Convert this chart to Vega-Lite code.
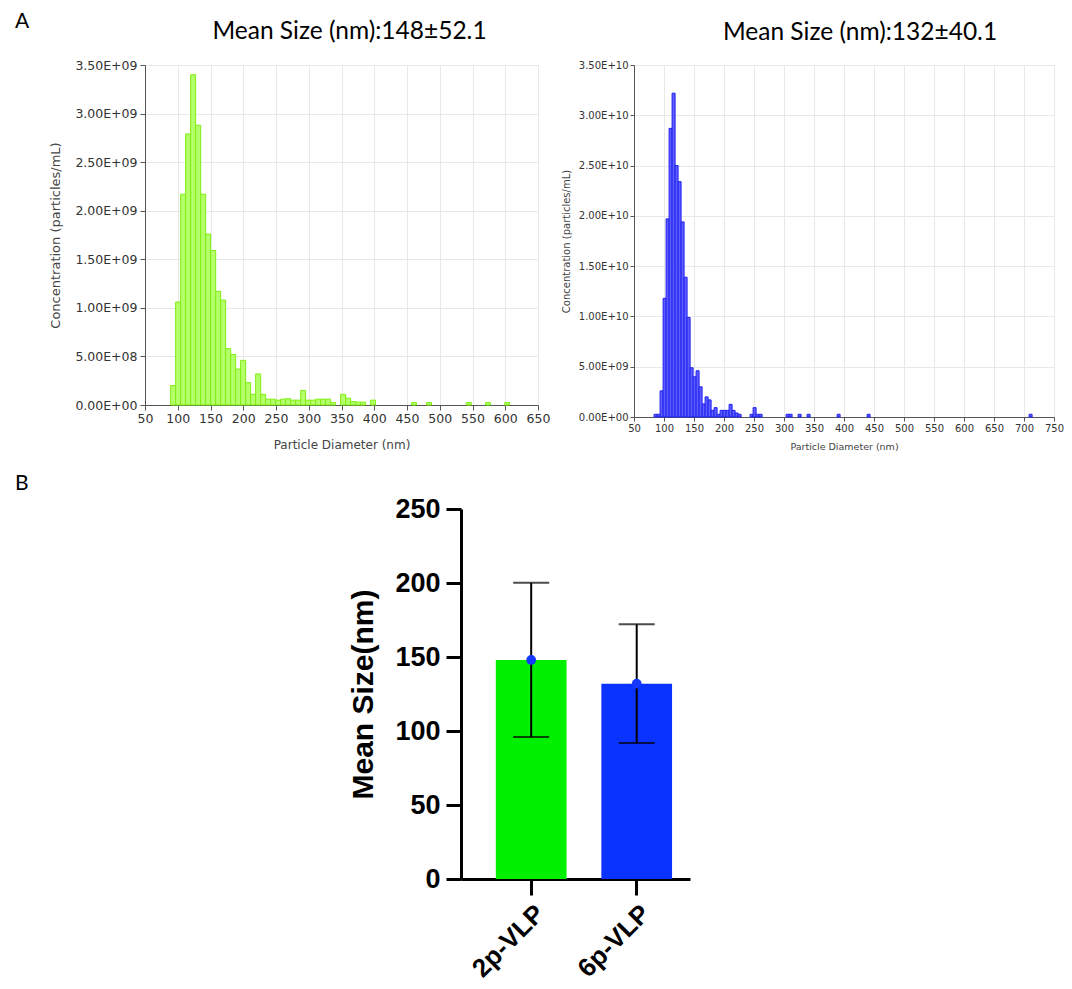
{
  "$schema": "https://vega.github.io/schema/vega-lite/v6.json",
  "background": "white",
  "padding": {"left": 15, "top": 10, "right": 5, "bottom": 2},
  "title": {"text": "A", "anchor": "start", "frame": "group", "dx": -130, "font": "Lato", "fontSize": 21, "fontWeight": "normal", "color": "black", "offset": -13},
  "bounds": "flush",
  "spacing": 444,
  "vconcat": [
    {
      "bounds": "flush",
      "spacing": 96,
      "hconcat": [
        {
          "width": 393,
          "height": 340,
          "title": {"text": "Mean Size (nm):148±52.1", "font": "Lato", "fontSize": 24.5, "fontWeight": "normal", "color": "black", "anchor": "middle", "dx": 8, "offset": 14.5},
          "data": {"values": [
            {"d0": 89.2, "d1": 96.8, "c": 2.0e8},
            {"d0": 96.8, "d1": 104.4, "c": 1.06e9},
            {"d0": 104.4, "d1": 112.1, "c": 2.17e9},
            {"d0": 112.1, "d1": 119.7, "c": 2.79e9},
            {"d0": 119.7, "d1": 127.3, "c": 3.40e9},
            {"d0": 127.3, "d1": 135.0, "c": 2.88e9},
            {"d0": 135.0, "d1": 142.6, "c": 2.17e9},
            {"d0": 142.6, "d1": 150.2, "c": 1.76e9},
            {"d0": 150.2, "d1": 157.9, "c": 1.59e9},
            {"d0": 157.9, "d1": 165.5, "c": 1.17e9},
            {"d0": 165.5, "d1": 173.1, "c": 1.08e9},
            {"d0": 173.1, "d1": 180.8, "c": 5.8e8},
            {"d0": 180.8, "d1": 188.4, "c": 5.2e8},
            {"d0": 188.4, "d1": 196.0, "c": 3.7e8},
            {"d0": 196.0, "d1": 203.7, "c": 4.6e8},
            {"d0": 203.7, "d1": 211.3, "c": 2.3e8},
            {"d0": 211.3, "d1": 218.9, "c": 1.1e8},
            {"d0": 218.9, "d1": 226.6, "c": 3.2e8},
            {"d0": 226.6, "d1": 234.2, "c": 1.1e8},
            {"d0": 234.2, "d1": 241.8, "c": 6.0e7},
            {"d0": 241.8, "d1": 249.4, "c": 6.0e7},
            {"d0": 249.4, "d1": 257.1, "c": 5.0e7},
            {"d0": 257.1, "d1": 264.7, "c": 6.0e7},
            {"d0": 264.7, "d1": 272.3, "c": 6.5e7},
            {"d0": 272.3, "d1": 280.0, "c": 5.0e7},
            {"d0": 280.0, "d1": 287.6, "c": 5.0e7},
            {"d0": 287.6, "d1": 295.2, "c": 1.5e8},
            {"d0": 295.2, "d1": 302.9, "c": 5.0e7},
            {"d0": 302.9, "d1": 310.5, "c": 5.0e7},
            {"d0": 310.5, "d1": 318.1, "c": 6.0e7},
            {"d0": 318.1, "d1": 325.8, "c": 6.0e7},
            {"d0": 325.8, "d1": 333.4, "c": 6.0e7},
            {"d0": 333.4, "d1": 341.0, "c": 2.5e7},
            {"d0": 348.6, "d1": 356.3, "c": 1.1e8},
            {"d0": 356.3, "d1": 363.9, "c": 7.0e7},
            {"d0": 363.9, "d1": 371.5, "c": 3.5e7},
            {"d0": 371.5, "d1": 379.2, "c": 3.0e7},
            {"d0": 379.2, "d1": 386.8, "c": 3.0e7},
            {"d0": 394.4, "d1": 402.0, "c": 5.0e7},
            {"d0": 456.9, "d1": 464.5, "c": 2.5e7},
            {"d0": 479.8, "d1": 487.4, "c": 2.5e7},
            {"d0": 540.5, "d1": 548.1, "c": 2.5e7},
            {"d0": 569.8, "d1": 577.4, "c": 2.5e7},
            {"d0": 599.2, "d1": 606.8, "c": 2.5e7}
          ]},
          "mark": {"type": "rect", "fill": "#b4ff6a", "stroke": "#7fef10", "strokeWidth": 1},
          "encoding": {
            "x": {"field": "d0", "type": "quantitative",
              "scale": {"domain": [50, 650], "nice": false, "zero": false},
              "axis": {"values": [50, 100, 150, 200, 250, 300, 350, 400, 450, 500, 550, 600, 650], "format": "d", "grid": true, "gridColor": "#e8e8e8", "domainColor": "#555555", "tickColor": "#555555", "tickSize": 5, "labelFont": "DejaVu Sans", "labelFontSize": 12.5, "labelColor": "#333333", "labelPadding": 2, "labelFlush": false, "labelOverlap": false, "title": "Particle Diameter (nm)", "titleFont": "DejaVu Sans", "titleFontSize": 12, "titleFontWeight": "normal", "titleColor": "#444444", "titlePadding": 15}},
            "x2": {"field": "d1"},
            "y": {"field": "c", "type": "quantitative",
              "scale": {"domain": [0, 3500000000], "nice": false},
              "axis": {"values": [0, 500000000, 1000000000, 1500000000, 2000000000, 2500000000, 3000000000, 3500000000], "labelExpr": "upper(replace(format(datum.value, '.2e'), 'e+', 'e+0'))", "grid": true, "gridColor": "#e8e8e8", "domainColor": "#555555", "tickColor": "#555555", "tickSize": 5, "labelFont": "DejaVu Sans", "labelFontSize": 12.5, "labelColor": "#333333", "labelPadding": 3, "title": "Concentration (particles/mL)", "titleFont": "DejaVu Sans", "titleFontSize": 13, "titleFontWeight": "normal", "titleColor": "#444444", "titlePadding": 12}},
            "y2": {"datum": 0}
          }
        },
        {
          "width": 420,
          "height": 352,
          "title": {"text": "Mean Size (nm):132±40.1", "font": "Lato", "fontSize": 24.5, "fontWeight": "normal", "color": "black", "anchor": "middle", "dx": 16, "offset": 14.5},
          "data": {"values": [
            {"d0": 83.5, "d1": 88.5, "c": 2.7e8},
            {"d0": 88.5, "d1": 93.5, "c": 2.7e8},
            {"d0": 93.5, "d1": 98.5, "c": 2.6e9},
            {"d0": 98.5, "d1": 103.5, "c": 1.18e10},
            {"d0": 103.5, "d1": 108.5, "c": 1.97e10},
            {"d0": 108.5, "d1": 113.5, "c": 2.87e10},
            {"d0": 113.5, "d1": 118.5, "c": 3.22e10},
            {"d0": 118.5, "d1": 123.5, "c": 2.50e10},
            {"d0": 123.5, "d1": 128.5, "c": 2.34e10},
            {"d0": 128.5, "d1": 133.5, "c": 1.94e10},
            {"d0": 133.5, "d1": 138.5, "c": 1.39e10},
            {"d0": 138.5, "d1": 143.5, "c": 9.9e9},
            {"d0": 143.5, "d1": 148.5, "c": 4.9e9},
            {"d0": 148.5, "d1": 153.5, "c": 4.0e9},
            {"d0": 153.5, "d1": 158.5, "c": 4.6e9},
            {"d0": 158.5, "d1": 163.5, "c": 3.0e9},
            {"d0": 163.5, "d1": 168.5, "c": 1.3e9},
            {"d0": 168.5, "d1": 173.5, "c": 2.0e9},
            {"d0": 173.5, "d1": 178.5, "c": 1.7e9},
            {"d0": 178.5, "d1": 183.5, "c": 6.6e8},
            {"d0": 183.5, "d1": 188.5, "c": 9.3e8},
            {"d0": 188.5, "d1": 193.5, "c": 2.7e8},
            {"d0": 193.5, "d1": 198.5, "c": 6.6e8},
            {"d0": 198.5, "d1": 203.5, "c": 6.6e8},
            {"d0": 203.5, "d1": 208.5, "c": 6.6e8},
            {"d0": 208.5, "d1": 213.5, "c": 1.26e9},
            {"d0": 213.5, "d1": 218.5, "c": 6.6e8},
            {"d0": 218.5, "d1": 223.5, "c": 4.0e8},
            {"d0": 223.5, "d1": 228.5, "c": 2.7e8},
            {"d0": 243.5, "d1": 248.5, "c": 2.7e8},
            {"d0": 248.5, "d1": 253.5, "c": 9.3e8},
            {"d0": 253.5, "d1": 258.5, "c": 2.7e8},
            {"d0": 258.5, "d1": 263.5, "c": 2.7e8},
            {"d0": 303.5, "d1": 308.5, "c": 2.7e8},
            {"d0": 308.5, "d1": 313.5, "c": 2.7e8},
            {"d0": 323.5, "d1": 328.5, "c": 2.7e8},
            {"d0": 338.5, "d1": 343.5, "c": 2.7e8},
            {"d0": 388.5, "d1": 393.5, "c": 2.7e8},
            {"d0": 438.5, "d1": 443.5, "c": 2.7e8},
            {"d0": 708.5, "d1": 713.5, "c": 2.7e8}
          ]},
          "mark": {"type": "rect", "fill": "#5c5cff", "stroke": "#2222ee", "strokeWidth": 1},
          "encoding": {
            "x": {"field": "d0", "type": "quantitative",
              "scale": {"domain": [50, 750], "nice": false, "zero": false},
              "axis": {"values": [50, 100, 150, 200, 250, 300, 350, 400, 450, 500, 550, 600, 650, 700, 750], "format": "d", "grid": true, "gridColor": "#e8e8e8", "domainColor": "#555555", "tickColor": "#555555", "tickSize": 4, "labelFont": "DejaVu Sans", "labelFontSize": 10, "labelColor": "#333333", "labelPadding": 2, "labelFlush": false, "labelOverlap": false, "title": "Particle Diameter (nm)", "titleFont": "DejaVu Sans", "titleFontSize": 9.5, "titleFontWeight": "normal", "titleColor": "#444444", "titlePadding": 8}},
            "x2": {"field": "d1"},
            "y": {"field": "c", "type": "quantitative",
              "scale": {"domain": [0, 35000000000], "nice": false},
              "axis": {"values": [0, 5000000000, 10000000000, 15000000000, 20000000000, 25000000000, 30000000000, 35000000000], "labelExpr": "datum.value >= 1e10 ? upper(format(datum.value, '.2e')) : upper(replace(format(datum.value, '.2e'), 'e+', 'e+0'))", "grid": true, "gridColor": "#e8e8e8", "domainColor": "#555555", "tickColor": "#555555", "tickSize": 4, "labelFont": "DejaVu Sans", "labelFontSize": 10, "labelColor": "#333333", "labelPadding": 2, "title": "Concentration (particles/mL)", "titleFont": "DejaVu Sans", "titleFontSize": 10, "titleFontWeight": "normal", "titleColor": "#444444", "titlePadding": 7}},
            "y2": {"datum": 0}
          }
        }
      ]
    },
    {
      "bounds": "flush",
      "spacing": 96,
      "hconcat": [
        {
          "width": 220,
          "height": 370,
          "title": {"text": "B", "anchor": "start", "frame": "group", "dx": -130, "font": "Lato", "fontSize": 21, "fontWeight": "normal", "color": "black", "offset": 15},
          "view": {"stroke": null},
          "data": {"values": []},
          "mark": {"type": "point", "opacity": 0}
        },
        {
          "width": 229,
          "height": 370,
          "view": {"stroke": null},
          "data": {"values": [
            {"group": "2p-VLP", "mean": 148, "sd": 52.1},
            {"group": "6p-VLP", "mean": 132, "sd": 40.1}
          ]},
          "encoding": {
            "x": {"field": "group", "type": "nominal", "sort": null,
              "scale": {"paddingInner": 0.33, "paddingOuter": 0.25, "align": 0.66},
              "axis": {"title": null, "labelAngle": -45, "labelFont": "Liberation Sans", "labelFontSize": 26, "labelFontWeight": "bold", "labelColor": "black", "domainColor": "black", "domainWidth": 3, "tickColor": "black", "tickWidth": 3, "tickSize": 16, "labelPadding": 5, "grid": false}}
          },
          "layer": [
            {
              "mark": {"type": "bar"},
              "encoding": {
                "y": {"field": "mean", "type": "quantitative", "title": "Mean Size(nm)",
                  "scale": {"domain": [0, 250], "nice": false},
                  "axis": {"values": [0, 50, 100, 150, 200, 250], "grid": false, "labelFont": "Liberation Sans", "labelFontSize": 27, "labelFontWeight": "bold", "labelColor": "black", "labelPadding": 6, "domainColor": "black", "domainWidth": 3, "tickColor": "black", "tickWidth": 3, "tickSize": 15, "titleFont": "Liberation Sans", "titleFontSize": 30, "titleFontWeight": "bold", "titleColor": "black", "titlePadding": 16}},
                "color": {"field": "group", "type": "nominal", "scale": {"domain": ["2p-VLP", "6p-VLP"], "range": ["#00f000", "#0a33ff"]}, "legend": null}
              }
            },
            {
              "mark": {"type": "errorbar", "color": "black", "ticks": {"size": 36, "thickness": 2, "color": "black"}, "rule": {"strokeWidth": 2, "color": "black"}},
              "encoding": {
                "y": {"field": "mean", "type": "quantitative", "title": "Mean Size(nm)"},
                "yError": {"field": "sd"}
              }
            },
            {
              "mark": {"type": "point", "filled": true, "color": "#1438ff", "size": 95, "opacity": 1},
              "encoding": {
                "y": {"field": "mean", "type": "quantitative", "title": "Mean Size(nm)"}
              }
            }
          ]
        }
      ]
    }
  ]
}
